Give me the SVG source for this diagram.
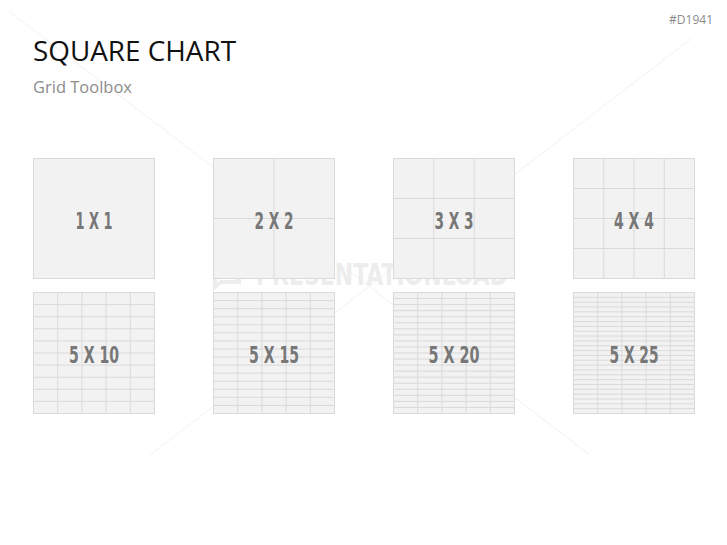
<svg xmlns="http://www.w3.org/2000/svg" width="727" height="545" viewBox="0 0 727 545">
<style>
.sq{fill:#f2f2f2;stroke:#d9d9d9;stroke-width:1}
.gl{stroke:#d9d9d9;stroke-width:1;fill:none}
.lbl{font-family:"DejaVu Sans Condensed","DejaVu Sans",sans-serif;font-weight:bold;font-size:23px;fill:#777777;text-anchor:middle}
.wm{stroke:#f1f1f1;stroke-width:1;fill:none}
</style>
<rect width="727" height="545" fill="#ffffff"/>
<g id="watermark">
<path class="wm" d="M10 12 L590 455 M692 38 L150 455"/>
<text x="256" y="285" font-family="'DejaVu Sans Condensed','DejaVu Sans',sans-serif" font-weight="bold" font-size="31" fill="#ededed" textLength="252" lengthAdjust="spacingAndGlyphs">PRESENTATIONLOAD</text>
<path d="M215 262 h24 v20 h-18 l-6 5 z" fill="none" stroke="#ededed" stroke-width="4"/>
</g>
<g id="header">
<text x="713" y="24" font-family="'Open Sans','Liberation Sans',sans-serif" font-size="12" fill="#8a8a8a" text-anchor="end">#D1941</text>
<text x="33" y="61" font-family="'Open Sans','Liberation Sans',sans-serif" font-size="28" fill="#111111" textLength="203" lengthAdjust="spacingAndGlyphs">SQUARE CHART</text>
<text x="33" y="93" font-family="'Open Sans','Liberation Sans',sans-serif" font-size="16" fill="#8c8c8c" textLength="99" lengthAdjust="spacingAndGlyphs">Grid Toolbox</text>
</g>
<g id="n1x1">
<rect class="sq" x="33.5" y="158.5" width="121" height="120"/>
<text class="lbl" x="94" y="229" textLength="37" lengthAdjust="spacingAndGlyphs">1 X 1</text>
</g>
<g id="n2x2">
<rect class="sq" x="213.5" y="158.5" width="121" height="120"/>
<path class="gl" d="M274 158.5 V278.5 M213.5 218.5 H334.5"/>
<text class="lbl" x="274" y="229" textLength="39" lengthAdjust="spacingAndGlyphs">2 X 2</text>
</g>
<g id="n3x3">
<rect class="sq" x="393.5" y="158.5" width="121" height="120"/>
<path class="gl" d="M433.8 158.5 V278.5 M474.2 158.5 V278.5 M393.5 198.5 H514.5 M393.5 238.5 H514.5"/>
<text class="lbl" x="454" y="229" textLength="39" lengthAdjust="spacingAndGlyphs">3 X 3</text>
</g>
<g id="n4x4">
<rect class="sq" x="573.5" y="158.5" width="121" height="120"/>
<path class="gl" d="M603.75 158.5 V278.5 M634 158.5 V278.5 M664.25 158.5 V278.5 M573.5 188.5 H694.5 M573.5 218.5 H694.5 M573.5 248.5 H694.5"/>
<text class="lbl" x="634" y="229" textLength="40" lengthAdjust="spacingAndGlyphs">4 X 4</text>
</g>
<g id="n5x10">
<rect class="sq" x="33.5" y="292.5" width="121" height="121"/>
<path class="gl" d="M57.7 292.5 V413.5 M81.9 292.5 V413.5 M106.1 292.5 V413.5 M130.3 292.5 V413.5
M33.5 304.6 H154.5 M33.5 316.7 H154.5 M33.5 328.8 H154.5 M33.5 340.9 H154.5 M33.5 353 H154.5 M33.5 365.1 H154.5 M33.5 377.2 H154.5 M33.5 389.3 H154.5 M33.5 401.4 H154.5"/>
<text class="lbl" x="94" y="363" textLength="50" lengthAdjust="spacingAndGlyphs">5 X 10</text>
</g>
<g id="n5x15">
<rect class="sq" x="213.5" y="292.5" width="121" height="121"/>
<path class="gl" d="M237.7 292.5 V413.5 M261.9 292.5 V413.5 M286.1 292.5 V413.5 M310.3 292.5 V413.5
M213.5 300.57 H334.5 M213.5 308.63 H334.5 M213.5 316.7 H334.5 M213.5 324.77 H334.5 M213.5 332.83 H334.5 M213.5 340.9 H334.5 M213.5 348.97 H334.5 M213.5 357.03 H334.5 M213.5 365.1 H334.5 M213.5 373.17 H334.5 M213.5 381.23 H334.5 M213.5 389.3 H334.5 M213.5 397.37 H334.5 M213.5 405.43 H334.5"/>
<text class="lbl" x="274" y="363" textLength="50" lengthAdjust="spacingAndGlyphs">5 X 15</text>
</g>
<g id="n5x20">
<rect class="sq" x="393.5" y="292.5" width="121" height="121"/>
<path class="gl" d="M417.7 292.5 V413.5 M441.9 292.5 V413.5 M466.1 292.5 V413.5 M490.3 292.5 V413.5
M393.5 298.55 H514.5 M393.5 304.6 H514.5 M393.5 310.65 H514.5 M393.5 316.7 H514.5 M393.5 322.75 H514.5 M393.5 328.8 H514.5 M393.5 334.85 H514.5 M393.5 340.9 H514.5 M393.5 346.95 H514.5 M393.5 353 H514.5 M393.5 359.05 H514.5 M393.5 365.1 H514.5 M393.5 371.15 H514.5 M393.5 377.2 H514.5 M393.5 383.25 H514.5 M393.5 389.3 H514.5 M393.5 395.35 H514.5 M393.5 401.4 H514.5 M393.5 407.45 H514.5"/>
<text class="lbl" x="454" y="363" textLength="51" lengthAdjust="spacingAndGlyphs">5 X 20</text>
</g>
<g id="n5x25">
<rect class="sq" x="573.5" y="292.5" width="121" height="121"/>
<path class="gl" d="M597.7 292.5 V413.5 M621.9 292.5 V413.5 M646.1 292.5 V413.5 M670.3 292.5 V413.5
M573.5 297.34 H694.5 M573.5 302.18 H694.5 M573.5 307.02 H694.5 M573.5 311.86 H694.5 M573.5 316.7 H694.5 M573.5 321.54 H694.5 M573.5 326.38 H694.5 M573.5 331.22 H694.5 M573.5 336.06 H694.5 M573.5 340.9 H694.5 M573.5 345.74 H694.5 M573.5 350.58 H694.5 M573.5 355.42 H694.5 M573.5 360.26 H694.5 M573.5 365.1 H694.5 M573.5 369.94 H694.5 M573.5 374.78 H694.5 M573.5 379.62 H694.5 M573.5 384.46 H694.5 M573.5 389.3 H694.5 M573.5 394.14 H694.5 M573.5 398.98 H694.5 M573.5 403.82 H694.5 M573.5 408.66 H694.5"/>
<text class="lbl" x="634" y="363" textLength="49" lengthAdjust="spacingAndGlyphs">5 X 25</text>
</g>
</svg>
